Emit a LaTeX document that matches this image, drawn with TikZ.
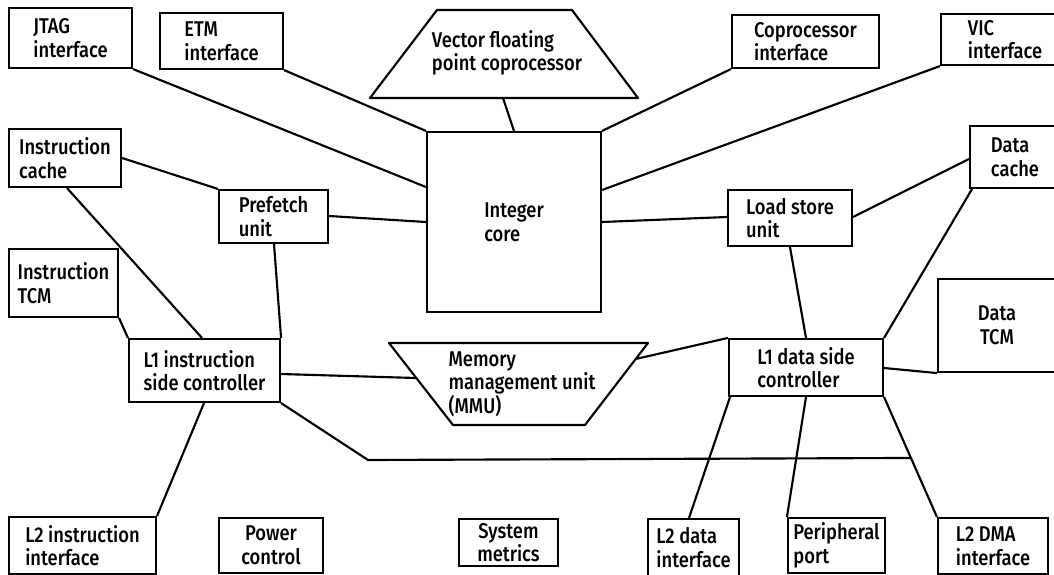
\documentclass[tikz,border=0pt]{standalone}
\usepackage{fontspec}
\setmainfont{Liberation Sans}
\newfontfamily\lblfont{Fira Sans}[UprightFont=* Medium, FakeStretch=0.86]
\usetikzlibrary{calc}
\tikzset{
  wire/.style={line width=1.6pt, line join=round},
  blk/.style={draw, line width=1.6pt, inner sep=0pt, align=left,
    font=\lblfont\fontsize{16}{17.7}\selectfont},
  size/.style args={#1x#2}{minimum width=#1*0.75pt, minimum height=#2*0.75pt},
  lbl/.style={inner sep=0pt, align=left,
    font=\lblfont\fontsize{16}{17.7}\selectfont}
}
\begin{document}
\begin{tikzpicture}[x=0.75pt, y=-0.75pt]
\clip (0,0) rectangle (1054,575);
\fill[white] (0,0) rectangle (1054,575);

% top row
\node[blk, size=123x60] (jtag) at (70.5,38) {JTAG\\interface};
\node[blk, size=123x56] (etm) at (221.5,41) {ETM\\interface};
\node[blk, size=147x53] (coproc) at (805.5,41.5) {Coprocessor\\interface};
\node[blk, size=128x51] (vic) at (1005,39.5) {VIC\\interface};

% vector floating point coprocessor (trapezoid)
\coordinate (vfp-tl) at (437,10);
\coordinate (vfp-tr) at (572,10);
\coordinate (vfp-br) at (638,98);
\coordinate (vfp-bl) at (370,98);
\draw[wire] (vfp-tl) -- (vfp-tr) -- (vfp-br) -- (vfp-bl) -- cycle;
\node[lbl] (vfp) at (507,53) {Vector floating\\point coprocessor};
\coordinate (vfp-b) at (503,98);

% core
\node[blk, size=174x180] (core) at (514,222) {Integer\\core};

% instruction side
\node[blk, size=112x58] (icache) at (65,158) {Instruction\\cache};
\node[blk, size=109x53] (prefetch) at (273.5,216.5) {Prefetch\\unit};
\node[blk, size=109x68] (itcm) at (63.5,283) {Instruction\\TCM};
\node[blk, size=151x63] (l1i) at (204.5,370.5) {L1 instruction\\side controller};

% data side
\node[blk, size=124x56] (lsu) at (790,218) {Load store\\unit};
\node[blk, size=90x62] (dcache) at (1015,157) {Data\\cache};
\node[blk, size=154x57] (l1d) at (806,367.5) {L1 data side\\controller};
\node[blk, size=118x93, align=center] (dtcm) at (997,325.5) {Data\\TCM};

% memory management unit (inverted trapezoid)
\coordinate (mmu-tl) at (389,343);
\coordinate (mmu-tr) at (648,343);
\coordinate (mmu-br) at (585,425);
\coordinate (mmu-bl) at (453,425);
\draw[wire] (mmu-tl) -- (mmu-tr) -- (mmu-br) -- (mmu-bl) -- cycle;
\node[lbl] (mmu) at (522,384) {Memory\\management unit\\(MMU)};
\coordinate (mmu-l) at ($(mmu-tl)!0.427!(mmu-bl)$);
\coordinate (mmu-r) at ($(mmu-tr)!0.195!(mmu-br)$);

% bottom row
\node[blk, size=147x57] (l2i) at (82.5,545.5) {L2 instruction\\interface};
\node[blk, size=104x55, align=center] (power) at (271,545.5) {Power\\control};
\node[blk, size=99x47, align=center] (sysm) at (508.5,542.5) {System\\metrics};
\node[blk, size=91x57] (l2d) at (693.5,547.5) {L2 data\\interface};
\node[blk, size=97x55] (periph) at (836.5,545.5) {Peripheral\\port};
\node[blk, size=110x56] (l2dma) at (993,546) {L2 DMA\\interface};

% connections to the core
\draw[wire] (jtag.south east) -- (core.west |- 0,187);
\draw[wire] (etm.south east) -- (core.north west);
\draw[wire] (vfp-b) -- (core.north -| 514,0);
\draw[wire] (coproc.south west) -- (core.north east);
\draw[wire] (vic.south west) -- (core.east |- 0,190);
\draw[wire] (prefetch.east |- 0,216) -- (core.west |- 0,222);
\draw[wire] (core.east |- 0,222) -- (lsu.west |- 0,217);

% instruction side connections
\draw[wire] (icache.east |- 0,158) -- (prefetch.north west);
\draw[wire] (icache.south -| 67,0) -- (l1i.north -| 202,0);
\draw[wire] (prefetch.south -| 274,0) -- (l1i.north east);
\draw[wire] (itcm.south east) -- (l1i.north west);
\draw[wire] (l1i.east |- 0,374) -- (mmu-l);
\draw[wire] (l1i.south -| 204,0) -- (l2i.north east);

% data side connections
\draw[wire] (lsu.east |- 0,217) -- (dcache.west |- 0,159);
\draw[wire] (dcache.south -| 972,0) -- (l1d.north east);
\draw[wire] (lsu.south -| 790,0) -- (l1d.north -| 806,0);
\draw[wire] (l1d.east |- 0,368) -- (dtcm.south west);
\draw[wire] (l1d.north west) -- (mmu-r);
\draw[wire] (l1d.south -| 730,0) -- (l2d.north -| 689,0);
\draw[wire] (l1d.south -| 806,0) -- (periph.north west);
\draw[wire] (l1d.south east) -- (l2dma.north west);

% bus from the instruction side controller
\coordinate (bus-bend) at (368,460);
\coordinate (bus-end) at ($(l1d.south east)!0.508!(l2dma.north west)$);
\draw[wire] (l1i.south east) -- (bus-bend) -- (bus-end);
\end{tikzpicture}
\end{document}
